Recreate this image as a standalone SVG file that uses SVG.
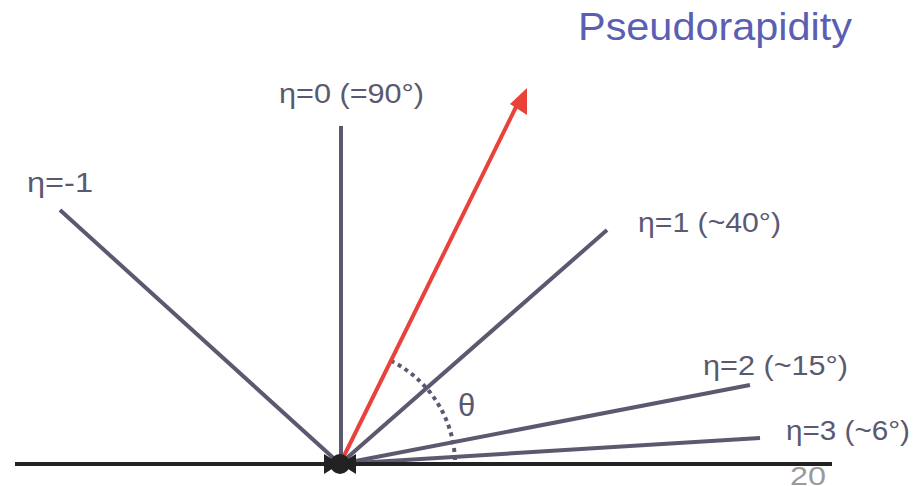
<svg xmlns="http://www.w3.org/2000/svg" width="915" height="486" viewBox="0 0 915 486">
<style>
.ln{stroke:#5b5970;stroke-width:4;stroke-linecap:butt;fill:none}
.lbl{font-family:"Liberation Sans",Arial,sans-serif;font-size:28px;fill:#5b5970}
</style>
<rect width="915" height="486" fill="#fff"/>
<text x="578" y="40" font-family="'Liberation Sans',Arial,sans-serif" font-size="39" fill="#5b5fb4" textLength="274" lengthAdjust="spacingAndGlyphs">Pseudorapidity</text>
<g id="connectors">
<line class="ln" x1="340" y1="464" x2="60" y2="210"/>
<line class="ln" x1="341" y1="464" x2="341" y2="126"/>
<line class="ln" x1="340" y1="464" x2="607" y2="230"/>
<line class="ln" x1="340" y1="464" x2="750" y2="385"/>
<line class="ln" x1="340" y1="464" x2="760" y2="438"/>
<path d="M390.8,360.8 A115,115 0 0 1 455,460" stroke="#5b5970" stroke-width="4" stroke-dasharray="4,4" fill="none"/>
<line x1="340" y1="464" x2="518" y2="103" stroke="#e8423a" stroke-width="4"/>
<path d="M527,88 L527,115 L510,104 Z" fill="#e8423a"/>
</g>
<g id="axis">
<line x1="15" y1="464" x2="832" y2="464" stroke="#222" stroke-width="4"/>
<path d="M324,454 L340,464 L324,474 Z" fill="#222"/>
<path d="M356,454 L340,464 L356,474 Z" fill="#222"/>
<circle cx="340" cy="464" r="10" fill="#222"/>
</g>
<g id="labels">
<text class="lbl" x="279" y="103" textLength="145" lengthAdjust="spacingAndGlyphs">η=0 (=90°)</text>
<text class="lbl" x="27" y="192" textLength="66" lengthAdjust="spacingAndGlyphs">η=-1</text>
<text class="lbl" x="638" y="232" textLength="143" lengthAdjust="spacingAndGlyphs">η=1 (~40°)</text>
<text class="lbl" x="703" y="375" textLength="145" lengthAdjust="spacingAndGlyphs">η=2 (~15°)</text>
<text class="lbl" x="786" y="440" textLength="124" lengthAdjust="spacingAndGlyphs">η=3 (~6°)</text>
<text class="lbl" x="458" y="416" font-size="31" style="font-size:31px">θ</text>
<text x="790" y="485" font-family="'Liberation Sans',Arial,sans-serif" font-size="25" fill="#9a9a9a" textLength="36" lengthAdjust="spacingAndGlyphs">20</text>
</g>
</svg>
